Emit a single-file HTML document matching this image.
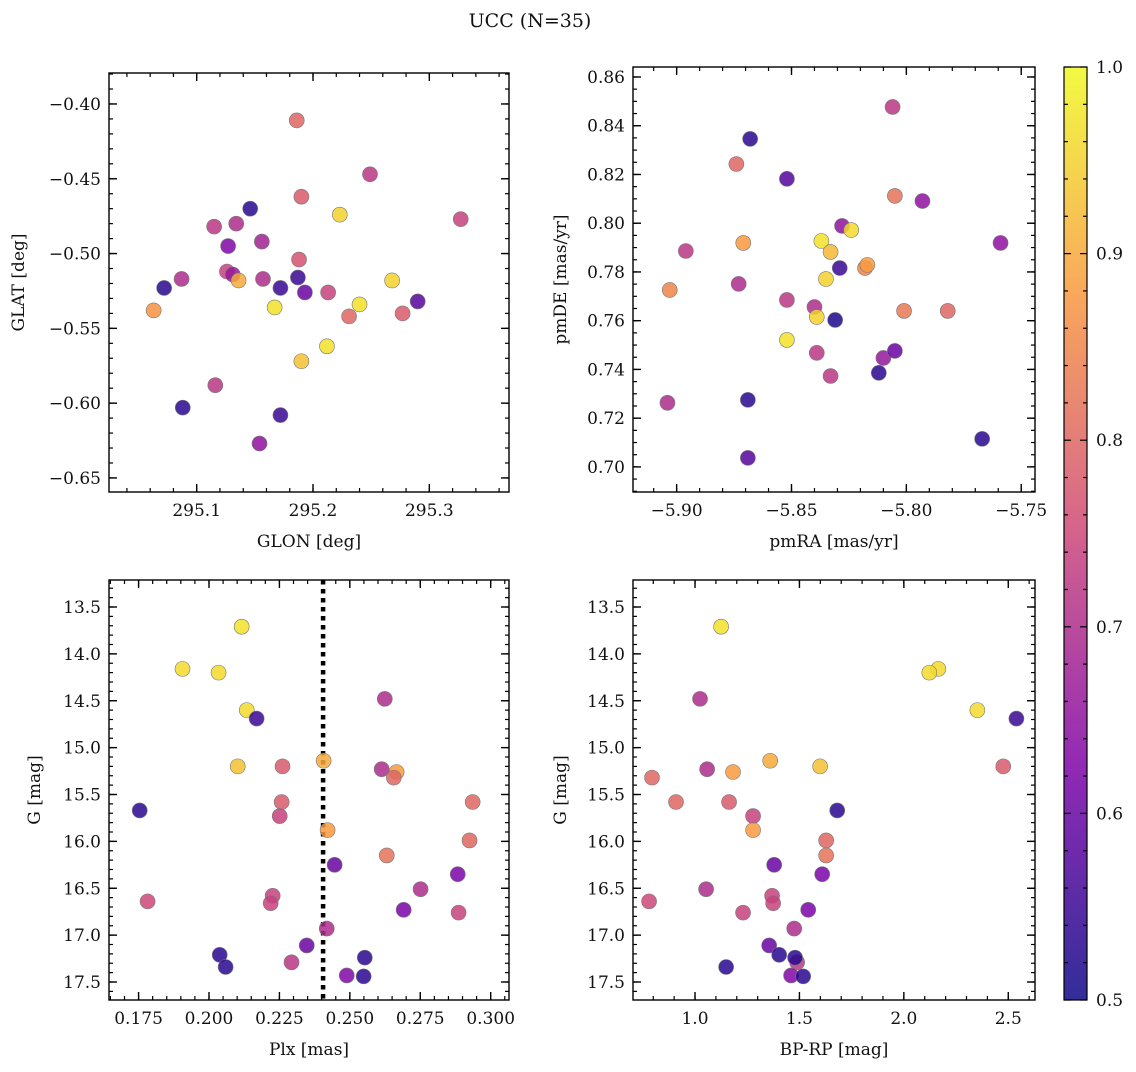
<!DOCTYPE html>
<html><head><meta charset="utf-8"><style>
body{margin:0;background:#fff;}
svg text{font-family:"DejaVu Serif","Liberation Serif",serif;fill:#111;}
</style></head><body>
<svg id="fig" xmlns="http://www.w3.org/2000/svg" width="1136" height="1067" viewBox="0 0 1136 1067">
<text x="530" y="27" font-size="19" text-anchor="middle">UCC (N=35)</text>
</svg>
<script>
// ---- data ----
const glon=[295.186,295.249,295.190,295.223,295.146,295.115,295.134,295.127,295.156,295.188,295.087,295.126,295.131,295.136,295.157,295.187,295.072,295.172,295.193,295.213,295.167,295.240,295.327,295.268,295.231,295.277,295.290,295.063,295.212,295.190,295.116,295.088,295.172,295.154];
const glat=[-0.411,-0.447,-0.462,-0.474,-0.470,-0.482,-0.480,-0.495,-0.492,-0.504,-0.517,-0.512,-0.514,-0.518,-0.517,-0.516,-0.523,-0.523,-0.526,-0.526,-0.536,-0.534,-0.477,-0.518,-0.542,-0.540,-0.532,-0.538,-0.562,-0.572,-0.588,-0.603,-0.608,-0.627];
const probPos=[0.80,0.72,0.78,0.95,0.53,0.72,0.70,0.63,0.68,0.77,0.70,0.74,0.66,0.90,0.70,0.55,0.53,0.55,0.60,0.74,0.97,0.97,0.74,0.95,0.80,0.78,0.58,0.87,0.97,0.93,0.72,0.53,0.55,0.65];
const pmra=[-5.806,-5.868,-5.874,-5.852,-5.805,-5.793,-5.759,-5.896,-5.828,-5.871,-5.837,-5.824,-5.833,-5.818,-5.817,-5.829,-5.873,-5.835,-5.903,-5.852,-5.801,-5.782,-5.840,-5.831,-5.839,-5.852,-5.839,-5.810,-5.805,-5.833,-5.812,-5.904,-5.869,-5.767,-5.869];
const pmde=[0.8477,0.8346,0.8243,0.8182,0.8112,0.8091,0.7919,0.7886,0.7989,0.7919,0.7927,0.7972,0.7882,0.7816,0.7829,0.7816,0.7751,0.7771,0.7726,0.7685,0.764,0.764,0.7656,0.7603,0.7615,0.7521,0.7468,0.7447,0.7476,0.7373,0.7386,0.7263,0.7275,0.7115,0.7037];
const probPm=[0.72,0.53,0.80,0.58,0.82,0.65,0.65,0.72,0.65,0.88,0.97,0.96,0.92,0.85,0.88,0.55,0.70,0.95,0.85,0.72,0.83,0.80,0.70,0.52,0.95,0.97,0.72,0.66,0.60,0.72,0.53,0.70,0.53,0.53,0.58];
const plx=[0.2116,0.1906,0.2034,0.2134,0.2169,0.2102,0.2261,0.2407,0.2624,0.2613,0.2666,0.2656,0.1754,0.2258,0.2251,0.2936,0.2421,0.2631,0.2925,0.2446,0.2883,0.2751,0.2226,0.2219,0.1782,0.2691,0.2886,0.2418,0.2347,0.2293,0.2038,0.2059,0.2553,0.2489,0.2549];
const gmag=[13.71,14.16,14.20,14.60,14.69,15.20,15.20,15.14,14.48,15.23,15.26,15.32,15.67,15.58,15.73,15.58,15.88,16.15,15.99,16.25,16.35,16.51,16.58,16.66,16.64,16.73,16.76,16.93,17.11,17.29,17.21,17.34,17.24,17.43,17.44];
const bprp=[1.125,2.165,2.122,2.352,2.539,1.599,2.476,1.36,1.024,1.058,1.182,0.794,1.681,1.163,1.278,0.909,1.278,1.628,1.628,1.379,1.609,1.053,1.369,1.374,0.780,1.542,1.230,1.475,1.355,1.489,1.403,1.149,1.479,1.46,1.518];
const probCmd=[0.97,0.96,0.96,0.96,0.55,0.93,0.78,0.90,0.70,0.70,0.88,0.80,0.53,0.78,0.74,0.80,0.88,0.82,0.80,0.60,0.62,0.70,0.74,0.74,0.75,0.62,0.74,0.70,0.60,0.72,0.53,0.53,0.53,0.63,0.53];
const plxLine=0.2405;

const NS="http://www.w3.org/2000/svg";
const svg=document.getElementById('fig');
function mk(t,a,p){const e=document.createElementNS(NS,t);for(const k in a)e.setAttribute(k,a[k]);(p||svg).appendChild(e);return e;}
const stops=[[0,[13,8,135]],[0.25,[126,3,168]],[0.5,[204,71,120]],[0.75,[248,149,64]],[1,[240,249,33]]];
function plasma(t){t=Math.max(0,Math.min(1,t));for(let i=1;i<stops.length;i++){if(t<=stops[i][0]){const a=stops[i-1],b=stops[i];const f=(t-a[0])/(b[0]-a[0]);const c=a[1].map((v,j)=>Math.round(v+(b[1][j]-v)*f));return `rgb(${c})`;}}return 'rgb(240,249,33)';}
function cval(p){return plasma((p-0.5)/0.5);}
function lin(d0,d1,r0,r1){return v=>r0+(v-d0)/(d1-d0)*(r1-r0);}
function fmt(v,dec){let s=v.toFixed(dec);return s.replace('-','\u2212');}

function panel(name,box,xd,yd,xt,yt,xlab,ylab,ylx){
  const [L,T,R,B]=box;
  const g=mk('g',{});
  
  
  const sx=lin(xd[0],xd[1],L,R), sy=lin(yd[0],yd[1],B,T);
  const eps=1e-9;
  function ticks(d,step){const a=[];const s=Math.ceil(Math.min(d[0],d[1])/step-eps);const e=Math.floor(Math.max(d[0],d[1])/step+eps);for(let i=s;i<=e;i++)a.push(i*step);return a;}
  const xM=ticks(xd,xt[0]),xm=ticks(xd,xt[1]),yM=ticks(yd,yt[0]),ym=ticks(yd,yt[1]);
  xm.forEach(v=>{const x=sx(v);mk('line',{x1:x,x2:x,y1:B,y2:B-4,stroke:'#000','stroke-width':1.2},g);mk('line',{x1:x,x2:x,y1:T,y2:T+4,stroke:'#000','stroke-width':1.2},g);});
  ym.forEach(v=>{const y=sy(v);mk('line',{x1:L,x2:L+4,y1:y,y2:y,stroke:'#000','stroke-width':1.2},g);mk('line',{x1:R,x2:R-4,y1:y,y2:y,stroke:'#000','stroke-width':1.2},g);});
  xM.forEach(v=>{const x=sx(v);mk('line',{x1:x,x2:x,y1:B,y2:B-8,stroke:'#000','stroke-width':1.4},g);mk('line',{x1:x,x2:x,y1:T,y2:T+8,stroke:'#000','stroke-width':1.4},g);
    const t=mk('text',{x:x,y:B+24,'font-size':17,'text-anchor':'middle'},g);t.textContent=fmt(v,xt[2]);
    
    });
  yM.forEach(v=>{const y=sy(v);mk('line',{x1:L,x2:L+8,y1:y,y2:y,stroke:'#000','stroke-width':1.4},g);mk('line',{x1:R,x2:R-8,y1:y,y2:y,stroke:'#000','stroke-width':1.4},g);
    const t=mk('text',{x:L-8,y:y+6,'font-size':17,'text-anchor':'end'},g);t.textContent=fmt(v,yt[2]);
    
    });
  mk('rect',{x:L,y:T,width:R-L,height:B-T,fill:'none',stroke:'#000','stroke-width':1.4},g);
  const xl=mk('text',{x:(L+R)/2,y:B+55,'font-size':17,'text-anchor':'middle'},g);xl.textContent=xlab;
  
  
  const yl=mk('text',{x:0,y:0,'font-size':17,'text-anchor':'middle',transform:`translate(${ylx},${(T+B)/2}) rotate(-90)`},g);yl.textContent=ylab;
  
  
  return {g,sx,sy,L,T,R,B};
}
function scatter(p,xs,ys,cs){
  xs.forEach((xv,i)=>{const c=mk('circle',{cx:p.sx(xv),cy:p.sy(ys[i]),r:7.5,fill:cval(cs[i]),'fill-opacity':0.85,stroke:'#777','stroke-width':0.6},p.g);
    
    });
}
const p1=panel('glon-glat-panel',[109,73,509,492],[295.0246,295.3685],[-0.6594,-0.3793],[0.1,0.02,1],[0.05,0.01,2],'GLON [deg]','GLAT [deg]',24);
scatter(p1,glon,glat,probPos);
const p2=panel('proper-motion-panel',[633,67,1035,492],[-5.919,-5.744],[0.6897,0.8641],[0.05,0.01,2],[0.02,0.005,2],'pmRA [mas/yr]','pmDE [mas/yr]',566);
scatter(p2,pmra,pmde,probPm);
const p3=panel('plx-g-panel',[109,580,509,1000],[0.1645,0.3065],[17.692,13.212],[0.025,0.005,3],[0.5,0.1,1],'Plx [mas]','G [mag]',40);
const dl=mk('line',{x1:p3.sx(plxLine),x2:p3.sx(plxLine),y1:580,y2:1000,stroke:'#000','stroke-width':4.5,'stroke-dasharray':'4.5,4.5'},p3.g);


scatter(p3,plx,gmag,probCmd);
const p4=panel('cmd-panel',[633,580,1035,1000],[0.703,2.628],[17.692,13.212],[0.5,0.1,1],[0.5,0.1,1],'BP-RP [mag]','G [mag]',566);
scatter(p4,bprp,gmag,probCmd);
const cb=mk('g',{});


const defs=mk('defs',{},cb);const lg=mk('linearGradient',{id:'cg',x1:0,y1:1,x2:0,y2:0},defs);
for(let i=0;i<=20;i++){mk('stop',{offset:i/20,'stop-color':plasma(i/20),'stop-opacity':0.85},lg);}
mk('rect',{x:1064,y:67,width:23,height:933,fill:'url(#cg)',stroke:'#000','stroke-width':1.2},cb);
const cby=lin(0.5,1,1000,67);
for(let i=0;i<=25;i++){const v=0.5+i*0.02;const y=cby(v);const major=i%5===0;
  mk('line',{x1:1087,x2:1087-(major?7:4),y1:y,y2:y,stroke:'#000','stroke-width':1.2},cb);
  mk('line',{x1:1064,x2:1064+(major?7:4),y1:y,y2:y,stroke:'#000','stroke-width':1.2},cb);
  if(major){const t=mk('text',{x:1096,y:y+6,'font-size':17},cb);t.textContent=v.toFixed(1);
    
    }}
</script>
</body></html>
